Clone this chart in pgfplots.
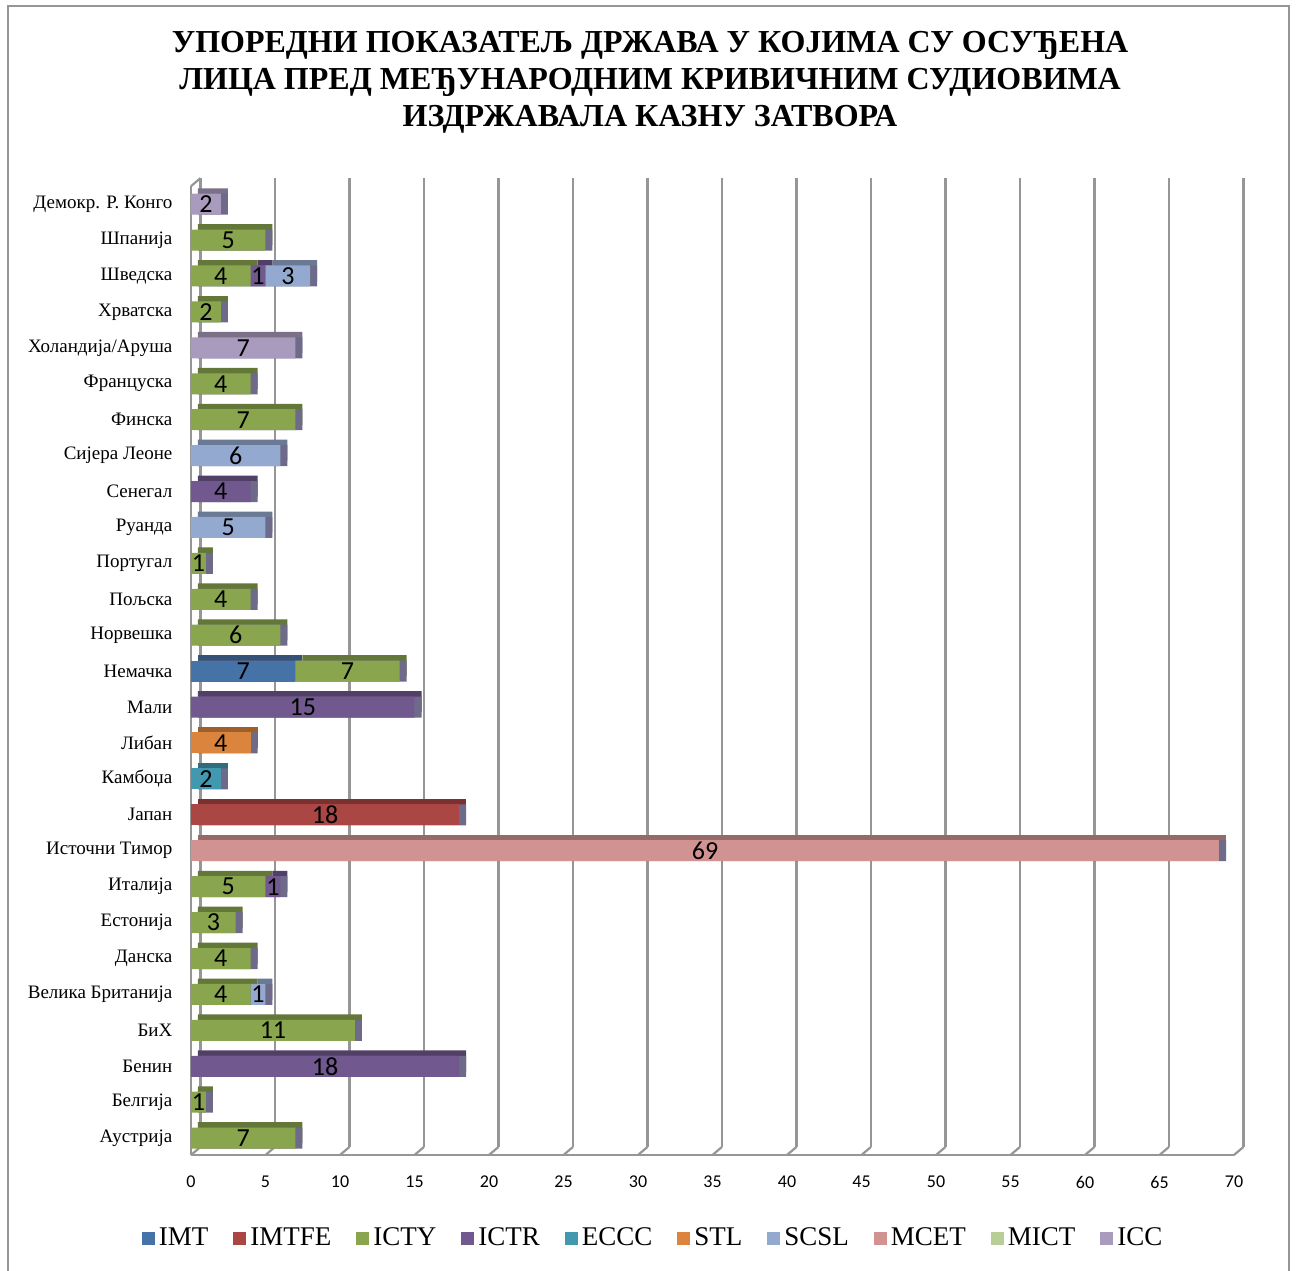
\documentclass[border=0pt]{standalone}
\usepackage{pgfplots}
\pgfplotsset{compat=1.18}
\usepackage{pgfplotstable}
\usepackage{fontspec}
\setmainfont{Liberation Serif}
\newfontfamily\titlefont{Liberation Serif Bold}
\newfontfamily\calibri{Carlito}
\definecolor{cIMT}{HTML}{4572A7}
\definecolor{cIMTFE}{HTML}{AA4643}
\definecolor{cICTY}{HTML}{89A54E}
\definecolor{cICTR}{HTML}{71588F}
\definecolor{cECCC}{HTML}{4198AF}
\definecolor{cSTL}{HTML}{DB843D}
\definecolor{cSCSL}{HTML}{93A9CF}
\definecolor{cMCET}{HTML}{D19392}
\definecolor{cMICT}{HTML}{B9CD96}
\definecolor{cICC}{HTML}{A99BBD}
\definecolor{cSide}{HTML}{6E6A8A}
\definecolor{gridc}{HTML}{969696}

\pgfplotstableread{
y IMT IMTFE ICTY ICTR ECCC STL SCSL MCET MICT ICC total
0 0 0 7 0 0 0 0 0 0 0 7
1 0 0 1 0 0 0 0 0 0 0 1
2 0 0 0 18 0 0 0 0 0 0 18
3 0 0 11 0 0 0 0 0 0 0 11
4 0 0 4 0 0 0 1 0 0 0 5
5 0 0 4 0 0 0 0 0 0 0 4
6 0 0 3 0 0 0 0 0 0 0 3
7 0 0 5 1 0 0 0 0 0 0 6
8 0 0 0 0 0 0 0 69 0 0 69
9 0 18 0 0 0 0 0 0 0 0 18
10 0 0 0 0 2 0 0 0 0 0 2
11 0 0 0 0 0 4 0 0 0 0 4
12 0 0 0 15 0 0 0 0 0 0 15
13 7 0 7 0 0 0 0 0 0 0 14
14 0 0 6 0 0 0 0 0 0 0 6
15 0 0 4 0 0 0 0 0 0 0 4
16 0 0 1 0 0 0 0 0 0 0 1
17 0 0 0 0 0 0 5 0 0 0 5
18 0 0 0 4 0 0 0 0 0 0 4
19 0 0 0 0 0 0 6 0 0 0 6
20 0 0 7 0 0 0 0 0 0 0 7
21 0 0 4 0 0 0 0 0 0 0 4
22 0 0 0 0 0 0 0 0 0 7 7
23 0 0 2 0 0 0 0 0 0 0 2
24 0 0 4 1 0 0 3 0 0 0 8
25 0 0 5 0 0 0 0 0 0 0 5
26 0 0 0 0 0 0 0 0 0 2 2
}\datatable

\pgfplotsset{
  base/.style={
    scale only axis, width=521.5pt, height=484.4pt,
    xmin=0, xmax=70, ymin=-0.47, ymax=26.5,
    at={(0,0)}, anchor=south west, clip=false,
  },
}

\begin{document}
\begin{tikzpicture}
\useasboundingbox (-95.5pt,-57.5pt) rectangle (552.5pt,577.5pt);
\draw[gridc, line width=1pt] (-91.5pt,-70pt) -- (-91.5pt,574.5pt) -- (549pt,574.5pt) -- (549pt,-70pt);

\node[align=center, font=\titlefont\fontsize{16}{18.5}\selectfont] at (229.5pt,536.5pt)
 {УПОРЕДНИ ПОКАЗАТЕЉ ДРЖАВА У КОЈИМА СУ ОСУЂЕНА\\ЛИЦА ПРЕД МЕЂУНАРОДНИМ КРИВИЧНИМ СУДИОВИМА\\ИЗДРЖАВАЛА КАЗНУ ЗАТВОРА};

% back wall grid
\begin{axis}[base, xshift=4.7pt, yshift=4pt,
  axis line style={draw=none}, major tick length=0pt,
  xtick={0,5,...,70}, ytick=\empty, xticklabels={},
  xmajorgrids, major grid style={gridc, line width=1.1pt}]
\addplot[draw=none] coordinates {(0,0)};
\pgfplotsinvokeforeach{0,5,...,70}{\draw[gridc, line width=1.1pt] (axis cs:#1,-0.47) -- ++(-4.7pt,-4pt);}
\draw[gridc, line width=1.1pt] (axis cs:0,26.5) -- ++(-4.7pt,-4pt);
\end{axis}

% top faces
\begin{axis}[base, xshift=3.5pt, yshift=2.7pt, hide axis, xbar stacked, bar width=10.5pt]
\addplot[fill=cIMT!72!black, draw=none] table[x=IMT,y=y]{\datatable};
\addplot[fill=cIMTFE!72!black, draw=none] table[x=IMTFE,y=y]{\datatable};
\addplot[fill=cICTY!72!black, draw=none] table[x=ICTY,y=y]{\datatable};
\addplot[fill=cICTR!72!black, draw=none] table[x=ICTR,y=y]{\datatable};
\addplot[fill=cECCC!72!black, draw=none] table[x=ECCC,y=y]{\datatable};
\addplot[fill=cSTL!72!black, draw=none] table[x=STL,y=y]{\datatable};
\addplot[fill=cSCSL!72!black, draw=none] table[x=SCSL,y=y]{\datatable};
\addplot[fill=cMCET!72!black, draw=none] table[x=MCET,y=y]{\datatable};
\addplot[fill=cMICT!72!black, draw=none] table[x=MICT,y=y]{\datatable};
\addplot[fill=cICC!72!black, draw=none] table[x=ICC,y=y]{\datatable};
\end{axis}

% side faces
\begin{axis}[base, xshift=3.5pt, hide axis, xbar, bar width=10.5pt, bar shift=0pt]
\addplot[fill=cSide, draw=none] table[x=total,y=y]{\datatable};
\end{axis}

% front faces
\begin{axis}[base, xbar stacked, bar width=10.5pt,
  axis x line*=bottom, axis y line*=left,
  axis line style={gridc, line width=1.1pt},
  major tick length=0pt,
  xtick={0,5,...,70}, ytick={0,...,26},
  yticklabels={Аустрија, Белгија, Бенин, БиХ, Велика Британија, Данска, Естонија, Италија, Источни Тимор, Јапан, Камбоџа, Либан, Мали, Немачка, Норвешка, Пољска, Португал, Руанда, Сенегал, Сијера Леоне, Финска, Француска, Холандија/Аруша, Хрватска, Шведска, Шпанија, Демокр. Р. Конго},
  yticklabel style={font=\fontsize{9.5}{11}\selectfont, xshift=-5.8pt},
  xticklabel style={font=\calibri\fontsize{9}{10}\selectfont, yshift=-7pt},
  /pgf/number format/assume math mode=true,
  visualization depends on={rawx \as \rawx},
  nodes near coords={\ifdim\rawx pt>0pt \pgfmathprintnumber{\rawx}\fi},
  nodes near coords style={font=\calibri\fontsize{13}{15}\selectfont, anchor=center, text=black},
  legend columns=10,
  legend style={at={(0.444,0)}, anchor=center, yshift=-41.5pt, draw=none,
    font=\fontsize{13.5}{15}\selectfont,
    /tikz/every even column/.append style={column sep=10.5pt}},
  legend image code/.code={\fill[#1] (0pt,-3.25pt) rectangle (6.5pt,3.25pt);},
]
\addplot[fill=cIMT, draw=none] table[x=IMT,y=y]{\datatable};
\addplot[fill=cIMTFE, draw=none] table[x=IMTFE,y=y]{\datatable};
\addplot[fill=cICTY, draw=none] table[x=ICTY,y=y]{\datatable};
\addplot[fill=cICTR, draw=none] table[x=ICTR,y=y]{\datatable};
\addplot[fill=cECCC, draw=none] table[x=ECCC,y=y]{\datatable};
\addplot[fill=cSTL, draw=none] table[x=STL,y=y]{\datatable};
\addplot[fill=cSCSL, draw=none] table[x=SCSL,y=y]{\datatable};
\addplot[fill=cMCET, draw=none] table[x=MCET,y=y]{\datatable};
\addplot[fill=cMICT, draw=none] table[x=MICT,y=y]{\datatable};
\addplot[fill=cICC, draw=none] table[x=ICC,y=y]{\datatable};
\legend{IMT,IMTFE,ICTY,ICTR,ECCC,STL,SCSL,MCET,MICT,ICC}
\end{axis}
\end{tikzpicture}
\end{document}
